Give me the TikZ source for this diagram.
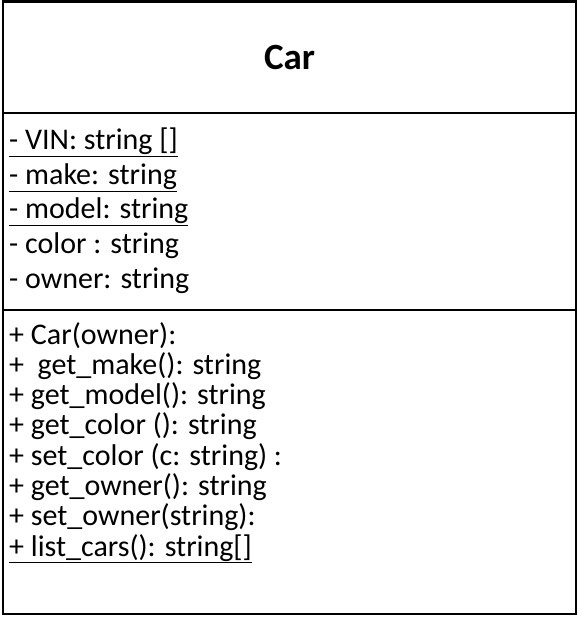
\documentclass[tikz,border=0pt]{standalone}
\usepackage{fontspec}
\setmainfont{Carlito}
\usepackage{tikz}

\begin{document}
\begin{tikzpicture}[x=1pt, y=-1pt,
  titlebox/.style={font=\fontsize{37}{44}\selectfont\bfseries, anchor=base, inner sep=0},
  member/.style={font=\fontsize{30}{34}\selectfont, anchor=base west, inner sep=0},
  frame/.style={line width=2.8pt}]
\useasboundingbox (0,0) rectangle (578,617);
% class box
\draw[frame] (3,1.5) rectangle (576,614);
\draw[frame] (3,113) -- (576,113);
\draw[frame] (3,310) -- (576,310);
% name
\node[titlebox] (name) at (289.5,70) {Car};
% attributes
\node[member] (a1) at (9,150) {\underline{- VIN: string []}};
\node[member] (a2) at (9,184.5) {\underline{- make: string}};
\node[member] (a3) at (9,219) {\underline{- model: string}};
\node[member] (a4) at (9,253.5) {- color : string};
\node[member] (a5) at (9,288) {- owner: string};
% operations
\node[member] (o1) at (9,344) {+ Car(owner):};
\node[member] (o2) at (9,374.3) {+ \ get\_make(): string};
\node[member] (o3) at (9,404.6) {+ get\_model(): string};
\node[member] (o4) at (9,434.9) {+ get\_color (): string};
\node[member] (o5) at (9,465.2) {+ set\_color (c: string) :};
\node[member] (o6) at (9,495.5) {+ get\_owner(): string};
\node[member] (o7) at (9,525.8) {+ set\_owner(string):};
\node[member] (o8) at (9,556.1) {\underline{+ list\_cars(): string[]}};
\end{tikzpicture}
\end{document}
